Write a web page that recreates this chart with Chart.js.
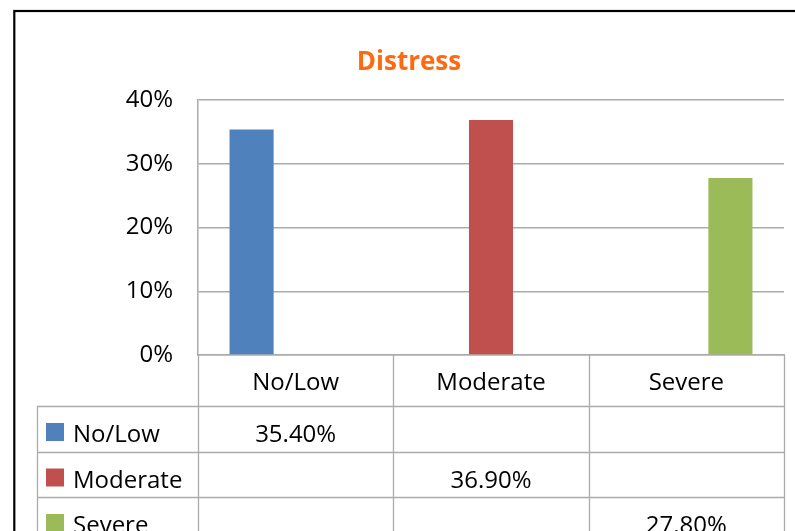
<!DOCTYPE html>
<html>
<head>
<meta charset="utf-8">
<title>Distress</title>
<script src="https://cdn.jsdelivr.net/npm/chart.js@4.4.1/dist/chart.umd.min.js"></script>
<style>
    html, body { margin: 0; padding: 0; background: #fff; }
    #wrap { width: 795px; height: 531px; }
</style>
</head>
<body>
<div id="wrap"><canvas id="distressChart" width="795" height="531"></canvas></div>
<script>
// Distress chart with Excel-style data table

const categories = ['No/Low', 'Moderate', 'Severe'];
const seriesNames = ['No/Low', 'Moderate', 'Severe'];
const seriesValues = [35.4, 36.9, 27.8];
const seriesColors = ['#4F81BD', '#C0504D', '#9BBB59'];
const yTickValues = [0, 10, 20, 30, 40];

const GRID_COLOR = '#ABABAB';
const FONT_FAMILY = '"Open Sans", "Noto Sans", sans-serif';
const ROW_HEIGHT = 45.5;
const TABLE_LEFT = 37;

// each series only has a value in its own category (clustered like Excel)
function buildDatasets() {
    return seriesNames.map((name, i) => ({
        label: name,
        data: categories.map((c, j) => (i === j ? seriesValues[i] : null)),
        backgroundColor: seriesColors[i],
        borderWidth: 0,
        categoryPercentage: 0.677,
        barPercentage: 1
    }));
}

// Outer black frame of the chart object
const framePlugin = {
    id: 'frame',
    beforeDraw(chart) {
        const ctx = chart.ctx;
        ctx.save();
        ctx.strokeStyle = '#000';
        ctx.lineWidth = 2.2;
        ctx.strokeRect(14.3, 11, 1000, 1000);
        ctx.restore();
    }
};

// Data table under the x axis, with legend keys
const dataTablePlugin = {
    id: 'dataTable',
    afterDraw(chart) {
        const ctx = chart.ctx;
        const xs = chart.scales.x;
        const colW = xs.width / categories.length;
        const headTop = xs.top;
        const bodyTop = xs.bottom;
        const canvasBottom = chart.height + 20;

        ctx.save();
        ctx.strokeStyle = GRID_COLOR;
        ctx.lineWidth = 1.3;

        // horizontal row lines
        ctx.beginPath();
        for (let r = 0; r <= seriesNames.length; r++) {
            const y = Math.round(bodyTop + r * ROW_HEIGHT) + 0.5;
            ctx.moveTo(TABLE_LEFT, y);
            ctx.lineTo(xs.right, y);
        }
        // vertical lines
        ctx.moveTo(TABLE_LEFT + 0.5, bodyTop);
        ctx.lineTo(TABLE_LEFT + 0.5, canvasBottom);
        for (let c = 0; c <= categories.length; c++) {
            const x = Math.round(xs.left + c * colW) + 0.5;
            ctx.moveTo(x, headTop);
            ctx.lineTo(x, canvasBottom);
        }
        ctx.stroke();

        // legend keys, series names and values
        ctx.font = '24px ' + FONT_FAMILY;
        ctx.textBaseline = 'alphabetic';
        seriesNames.forEach((name, i) => {
            const rowTop = bodyTop + i * ROW_HEIGHT;
            const baseline = rowTop + 36;

            ctx.fillStyle = seriesColors[i];
            ctx.fillRect(46, baseline - 19, 18, 18);

            ctx.fillStyle = '#000';
            ctx.textAlign = 'left';
            ctx.fillText(name, 73, baseline);

            ctx.textAlign = 'center';
            const cx = xs.getPixelForValue(i);
            ctx.fillText(seriesValues[i].toFixed(2) + '%', cx, baseline);
        });
        ctx.restore();
    }
};

function initDistressChart() {
    const ctx = document.getElementById('distressChart').getContext('2d');

    new Chart(ctx, {
        type: 'bar',
        data: {
            labels: categories,
            datasets: buildDatasets()
        },
        options: {
            responsive: false,
            animation: false,
            devicePixelRatio: 1,
            layout: {
                padding: { left: 34, right: 11, top: 0, bottom: 125 }
            },
            plugins: {
                legend: { display: false },
                tooltip: { enabled: false },
                title: {
                    display: true,
                    text: 'Distress',
                    color: '#FF6A10',
                    font: { family: FONT_FAMILY, size: 26, weight: 'bold' },
                    padding: { top: 47, bottom: 22 }
                }
            },
            scales: {
                x: {
                    grid: { display: false },
                    border: { display: true, color: GRID_COLOR, width: 1.5 },
                    ticks: {
                        color: '#000',
                        font: { family: FONT_FAMILY, size: 24 },
                        padding: 6
                    },
                    afterFit(scale) {
                        scale.height = 51;
                    }
                },
                y: {
                    min: 0,
                    max: 40,
                    afterBuildTicks(scale) {
                        scale.ticks = yTickValues.map(v => ({ value: v }));
                    },
                    grid: {
                        color: GRID_COLOR,
                        lineWidth: 1.5,
                        drawTicks: false
                    },
                    border: { display: true, color: GRID_COLOR, width: 1.5 },
                    ticks: {
                        color: '#000',
                        font: { family: FONT_FAMILY, size: 24 },
                        padding: 25,
                        callback: v => v + '%'
                    },
                    afterFit(scale) {
                        scale.width = 164;
                    }
                }
            }
        },
        plugins: [framePlugin, dataTablePlugin]
    });
}

document.addEventListener('DOMContentLoaded', () => {
    initDistressChart();
});
</script>
</body>
</html>
